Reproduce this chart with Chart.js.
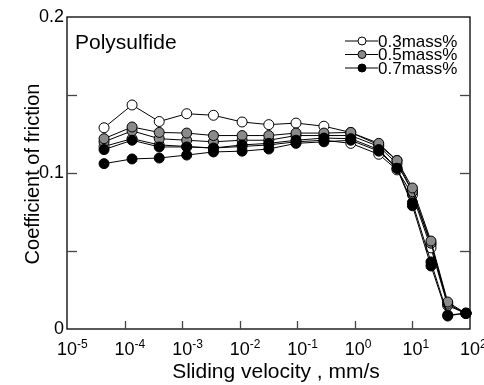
<!DOCTYPE html>
<html>
<head>
<meta charset="utf-8">
<script src="https://cdn.jsdelivr.net/npm/chart.js@4/dist/chart.umd.min.js"></script>
<style>
  body { margin: 0; background: #fff; }
</style>
</head>
<body>
<canvas id="myChart" width="484" height="385"></canvas>
<script>
// sliding velocity, mm/s
var velocity = [4.4e-5, 1.35e-4, 4e-4, 1.2e-3, 3.5e-3, 1.1e-2, 3.2e-2, 9.5e-2, 0.29, 0.85, 2.6, 5.4, 10, 21, 41, 85];

// coefficient of friction, two runs per concentration
var mu03a = [0.129, 0.1436, 0.133, 0.138, 0.137, 0.1327, 0.131, 0.132, 0.130, 0.126, 0.118, 0.108, 0.088, 0.054, 0.016, 0.010];
var mu03b = [0.117, 0.122, 0.118, 0.117, 0.116, 0.117, 0.118, 0.120, 0.121, 0.119, 0.112, 0.102, 0.086, 0.052, 0.015, 0.010];
var mu05a = [0.122, 0.1295, 0.126, 0.1256, 0.124, 0.124, 0.124, 0.1256, 0.1256, 0.126, 0.119, 0.108, 0.0904, 0.0564, 0.0173, 0.010];
var mu05b = [0.120, 0.127, 0.122, 0.121, 0.120, 0.121, 0.121, 0.124, 0.124, 0.124, 0.117, 0.106, 0.088, 0.055, 0.016, 0.010];
var mu07a = [0.115, 0.121, 0.1167, 0.1167, 0.116, 0.118, 0.119, 0.121, 0.1224, 0.122, 0.115, 0.103, 0.081, 0.043, 0.009, 0.010];
var mu07b = [0.106, 0.109, 0.1096, 0.1115, 0.1135, 0.114, 0.1154, 0.119, 0.120, 0.121, 0.114, 0.103, 0.079, 0.0404, 0.0083, 0.0103];

var legendLabels = ['0.3mass%', '0.5mass%', '0.7mass%'];
var fills = ['#ffffff', '#8a8a8a', '#000000'];
var xExponents = [-5, -4, -3, -2, -1, 0, 1, 2];
var yTicks = [0, 0.05, 0.1, 0.15, 0.2];
var yLabels = ['0', '', '0.1', '', '0.2'];

function pts(ys) {
  return ys.map(function (y, i) { return { x: velocity[i], y: y }; });
}

function series(ys, fill) {
  return {
    type: 'line',
    data: pts(ys),
    borderColor: '#000',
    borderWidth: 1,
    backgroundColor: fill,
    pointBackgroundColor: fill,
    pointBorderColor: '#000',
    pointBorderWidth: 1,
    pointRadius: 5,
    tension: 0,
    clip: false
  };
}

var FONT = '"Liberation Sans", Arial, sans-serif';

// frame, inward ticks, labels, titles and legend
var decor = {
  id: 'decor',
  beforeDatasetsDraw: function (chart) {
    var c = chart.ctx, a = chart.chartArea;
    var xs = chart.scales.x, ys = chart.scales.y;
    c.save();
    c.strokeStyle = '#000';
    c.lineWidth = 1.3;
    c.strokeRect(a.left, a.top, a.right - a.left, a.bottom - a.top);

    c.strokeStyle = '#444';
    xExponents.forEach(function (e) {
      var px = Math.round(xs.getPixelForValue(Math.pow(10, e))) + 0.5;
      if (e > -5 && e < 2) {
        c.beginPath(); c.moveTo(px, a.bottom); c.lineTo(px, a.bottom - 8); c.stroke();
      }
    });
    yTicks.forEach(function (v) {
      var py = Math.round(ys.getPixelForValue(v)) + 0.5;
      if (v > 0 && v < 0.2) {
        c.beginPath(); c.moveTo(a.left, py); c.lineTo(a.left + 10, py); c.stroke();
        c.beginPath(); c.moveTo(a.right, py); c.lineTo(a.right - 10, py); c.stroke();
      }
    });
    c.restore();
  },
  afterDraw: function (chart) {
    var c = chart.ctx, a = chart.chartArea;
    var xs = chart.scales.x, ys = chart.scales.y;
    c.save();
    c.fillStyle = '#000';
    // y tick labels
    c.font = '18px ' + FONT;
    c.textAlign = 'right';
    c.textBaseline = 'middle';
    yTicks.forEach(function (v, i) {
      if (yLabels[i]) c.fillText(yLabels[i], a.left - 3, ys.getPixelForValue(v));
    });
    // x tick labels 10^n
    xExponents.forEach(function (e) {
      var px = xs.getPixelForValue(Math.pow(10, e));
      c.font = '18px ' + FONT;
      c.textAlign = 'center';
      c.textBaseline = 'alphabetic';
      c.fillText('10', px, a.bottom + 26);
      var w = c.measureText('10').width;
      c.font = '12px ' + FONT;
      c.textAlign = 'left';
      c.fillText(e < 0 ? '-' + (-e) : String(e), px + w / 2, a.bottom + 19);
    });

    // axis titles
    c.font = '21px ' + FONT;
    c.textAlign = 'center';
    c.textBaseline = 'middle';
    c.fillText('Sliding velocity , mm/s', 276, 372);
    c.font = '20px ' + FONT;
    c.save();
    c.translate(33, (a.top + a.bottom) / 2 + 1);
    c.rotate(-Math.PI / 2);
    c.fillText('Coefficient of friction', 0, 0);
    c.restore();

    // panel label
    c.font = '21px ' + FONT;
    c.textAlign = 'left';
    c.textBaseline = 'alphabetic';
    c.fillText('Polysulfide', 75, 49);

    // legend
    c.font = '17px ' + FONT;
    c.textBaseline = 'middle';
    legendLabels.forEach(function (t, i) {
      var y = 41 + i * 13.5;
      c.strokeStyle = '#000';
      c.lineWidth = 1;
      c.beginPath(); c.moveTo(345, y); c.lineTo(378, y); c.stroke();
      c.beginPath(); c.arc(362, y, 4, 0, Math.PI * 2);
      c.fillStyle = fills[i]; c.fill(); c.stroke();
      c.fillStyle = '#000';
      c.fillText(t, 378, y + 1);
    });
    c.restore();
  }
};

// Chart.js paints dataset 0 last (on top), so black goes first
var ctx = document.getElementById('myChart').getContext('2d');
var myChart = new Chart(ctx, {
  data: {
    datasets: [
      series(mu07b, fills[2]),
      series(mu07a, fills[2]),
      series(mu05a, fills[1]),
      series(mu05b, fills[1]),
      series(mu03b, fills[0]),
      series(mu03a, fills[0])
    ]
  },
  options: {
    responsive: false,
    animation: false,
    devicePixelRatio: 1,
    layout: { padding: { left: 67, top: 17, right: 14, bottom: 56 } },
    plugins: { legend: { display: false }, tooltip: { enabled: false } },
    scales: {
      x: { type: 'logarithmic', min: 1e-5, max: 100, display: false },
      y: { type: 'linear', min: 0, max: 0.2, display: false }
    }
  },
  plugins: [decor]
});
</script>
</body>
</html>
